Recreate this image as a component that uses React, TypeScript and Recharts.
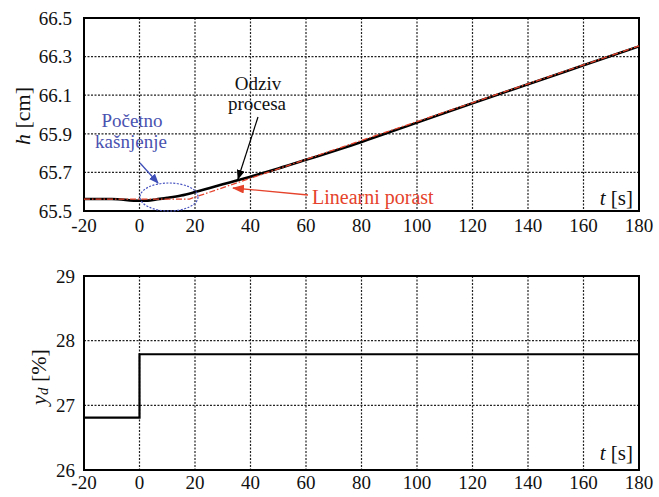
import React from "react";
import { LineChart, Line, XAxis, YAxis, CartesianGrid, ReferenceArea } from "recharts";

// ---- data ----
const xTicks = [-20, 0, 20, 40, 60, 80, 100, 120, 140, 160, 180];
const hTicks = [65.5, 65.7, 65.9, 66.1, 66.3, 66.5];
const ydTicks = [26, 27, 28, 29];

const responseT = [-20, -10, 0, 3, 6, 10, 15, 20, 25, 30, 35, 40, 50, 60, 80, 100, 120, 140, 160, 180];
const responseH = [65.562, 65.562, 65.553, 65.554, 65.56, 65.568, 65.58, 65.598, 65.618, 65.638, 65.658, 65.678, 65.72, 65.765, 65.858, 65.958, 66.058, 66.157, 66.255, 66.353];

const linearT = [-20, 18, 180];
const linearH = [65.562, 65.562, 66.355];

const ydT = [-20, 0, 180];
const ydV = [26.81, 27.79, 27.79];

const responseData = responseT.map((t, i) => ({ t, h: responseH[i] }));
const linearData = linearT.map((t, i) => ({ t, lin: linearH[i] }));
const ydData = ydT.map((t, i) => ({ t, yd: ydV[i] }));

const FONT = "Liberation Serif, Tinos, DejaVu Serif, serif";
const tickStyle = { fontFamily: FONT, fontSize: 19, fill: "#111", style: { fontFamily: FONT } };

const gridProps = {
  stroke: "#222",
  strokeDasharray: "2 1.5",
  strokeWidth: 1.2,
};

const txt = (extra: Record<string, unknown> = {}) => ({
  fontFamily: FONT,
  style: { fontFamily: FONT },
  ...extra,
});

export default function App() {
  return (
    <div style={{ position: "absolute", left: 0, top: 0, width: 659, height: 497, background: "#fff", fontFamily: FONT }}>
      <div style={{ position: "absolute", left: 0, top: 0 }}>
        <LineChart width={659} height={250} margin={{ top: 18, right: 20, left: 0, bottom: 0 }} style={{ fontFamily: FONT }}>
          <CartesianGrid {...gridProps} />
          <XAxis
            dataKey="t"
            type="number"
            domain={[-20, 180]}
            ticks={xTicks}
            allowDuplicatedCategory={false}
            height={39}
            axisLine={false}
            tickLine={false}
            tickSize={6}
            tickMargin={2}
            tick={tickStyle}
            interval={0}
          />
          <YAxis
            type="number"
            domain={[65.5, 66.5]}
            ticks={hTicks}
            width={84}
            axisLine={false}
            tickLine={false}
            tickSize={6}
            tickMargin={6}
            tick={tickStyle}
            tickFormatter={(v: number) => v.toFixed(1)}
            interval={0}
          />
          <ReferenceArea x1={-20} x2={180} y1={65.5} y2={66.5} fill="none" stroke="#000" strokeWidth={2} fillOpacity={0} />
          <Line data={responseData} dataKey="h" type="monotone" stroke="#000" strokeWidth={2.6} dot={false} isAnimationActive={false} />
          <Line data={linearData} dataKey="lin" type="linear" stroke="#e5432c" strokeWidth={1.3} strokeDasharray="6 2 1.5 2" dot={false} isAnimationActive={false} />
        </LineChart>
      </div>
      <div style={{ position: "absolute", left: 0, top: 250 }}>
        <LineChart width={659} height={247} data={ydData} margin={{ top: 26, right: 20, left: 0, bottom: 0 }} style={{ fontFamily: FONT }}>
          <CartesianGrid {...gridProps} />
          <XAxis
            dataKey="t"
            type="number"
            domain={[-20, 180]}
            ticks={xTicks}
            height={27}
            axisLine={false}
            tickLine={false}
            tickSize={6}
            tickMargin={0}
            tick={tickStyle}
            interval={0}
          />
          <YAxis
            type="number"
            domain={[26, 29]}
            ticks={ydTicks}
            width={84}
            axisLine={false}
            tickLine={false}
            tickSize={4}
            tickMargin={5}
            tick={tickStyle}
            interval={0}
          />
          <ReferenceArea x1={-20} x2={180} y1={26} y2={29} fill="none" stroke="#000" strokeWidth={2} fillOpacity={0} />
          <Line dataKey="yd" type="stepAfter" stroke="#000" strokeWidth={2.2} dot={false} isAnimationActive={false} />
        </LineChart>
      </div>
      <svg
        width={659}
        height={497}
        style={{ position: "absolute", left: 0, top: 0, pointerEvents: "none", fontFamily: FONT }}
      >
        <defs>
          <marker id="ahBlue" markerWidth="10" markerHeight="8" refX="9" refY="4" orient="auto" markerUnits="userSpaceOnUse">
            <path d="M0,0 L10,4 L0,8 Z" fill="#3f4fb8" />
          </marker>
          <marker id="ahBlack" markerWidth="10" markerHeight="8" refX="9" refY="4" orient="auto" markerUnits="userSpaceOnUse">
            <path d="M0,0 L10,4 L0,8 Z" fill="#000" />
          </marker>
          <marker id="ahRed" markerWidth="12" markerHeight="9" refX="11" refY="4.5" orient="auto" markerUnits="userSpaceOnUse">
            <path d="M0,0 L12,4.5 L0,9 Z" fill="#e5432c" />
          </marker>
        </defs>
        {/* axis labels */}
        <text {...txt()} x={22} y={116} transform="rotate(-90 22 116)" textAnchor="middle" dominantBaseline="central" fontSize={22} fill="#111">
          <tspan fontStyle="italic">h</tspan> [cm]
        </text>
        <text {...txt()} x={38} y={377} transform="rotate(-90 38 377)" textAnchor="middle" dominantBaseline="central" fontSize={22} fill="#111">
          <tspan fontStyle="italic">y</tspan>
          <tspan fontSize={15} dy={5} fontStyle="italic">d</tspan>
          <tspan dy={-5}> [%]</tspan>
        </text>
        <text {...txt()} x={633} y={205} textAnchor="end" fontSize={21} fill="#111">
          <tspan fontStyle="italic">t</tspan> [s]
        </text>
        <text {...txt()} x={633} y={460} textAnchor="end" fontSize={21} fill="#111">
          <tspan fontStyle="italic">t</tspan> [s]
        </text>
        {/* blue annotation */}
        <ellipse cx={169} cy={197} rx={29} ry={14} fill="none" stroke="#4a55c0" strokeWidth={1.2} strokeDasharray="2 1.5" />
        <line x1={140} y1={163} x2={158} y2={183} stroke="#3f4fb8" strokeWidth={1.3} markerEnd="url(#ahBlue)" />
        <text {...txt()} x={132} y={127} textAnchor="middle" fontSize={19} fill="#4a52b0">Početno</text>
        <text {...txt()} x={131} y={148} textAnchor="middle" fontSize={19} fill="#4a52b0">kašnjenje</text>
        {/* black annotation */}
        <text {...txt()} x={258} y={90} textAnchor="middle" fontSize={19} fill="#111">Odziv</text>
        <text {...txt()} x={257} y={110} textAnchor="middle" fontSize={19} fill="#111">procesa</text>
        <line x1={258} y1={117} x2={238} y2={179} stroke="#000" strokeWidth={1.2} markerEnd="url(#ahBlack)" />
        {/* red annotation */}
        <line x1={308} y1={195} x2={233} y2={188} stroke="#e5432c" strokeWidth={1.3} markerEnd="url(#ahRed)" />
        <text {...txt()} x={312} y={204} fontSize={20} fill="#e5432c">Linearni porast</text>
      </svg>
    </div>
  );
}
